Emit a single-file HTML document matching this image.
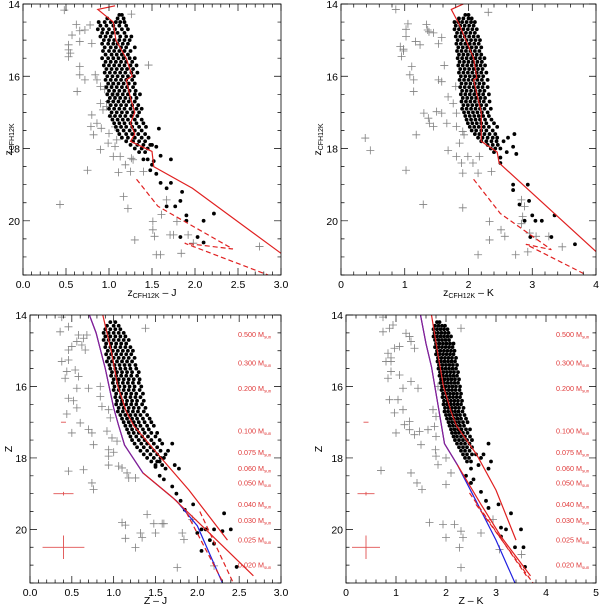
<!DOCTYPE html>
<html><head><meta charset="utf-8">
<style>
html,body{margin:0;padding:0;background:#fff;}
svg{display:block;font-family:"Liberation Sans",sans-serif;}
</style></head>
<body>
<svg id="fig" width="600" height="607" viewBox="0 0 600 607" xmlns="http://www.w3.org/2000/svg"></svg>
<script>
// ---------- DATA ----------
// Cluster members (dots) rows: [mag, color, color, ...]
const tlDots = [
[14.3,1.12,1.15],[14.4,1.1,1.17,0.98],[14.5,0.88,0.95,1.02,1.08,1.13,1.18],[14.6,0.9,0.97,1.05,1.12,1.2],
[14.7,0.87,0.93,1.0,1.07,1.15,1.22],[14.8,0.92,0.98,1.04,1.1,1.18],[14.9,0.9,0.96,1.02,1.13,1.2,1.26],
[15.0,0.94,1.0,1.06,1.12,1.18,1.24],[15.1,0.92,0.99,1.05,1.1,1.16,1.22],[15.2,0.95,1.02,1.08,1.14,1.2,1.3],
[15.3,0.93,1.0,1.06,1.12,1.18,1.25],[15.4,0.96,1.03,1.09,1.15,1.22],[15.5,0.92,0.99,1.05,1.11,1.17,1.24,1.3],
[15.6,0.96,1.02,1.08,1.14,1.2,1.27],[15.7,0.94,1.0,1.06,1.12,1.18,1.25,1.32],[15.8,0.97,1.03,1.09,1.15,1.21,1.28],
[15.9,0.95,1.01,1.07,1.13,1.19,1.26,1.33],[16.0,0.98,1.04,1.1,1.16,1.22,1.29],[16.1,0.96,1.02,1.08,1.14,1.2,1.27],
[16.2,0.99,1.05,1.11,1.17,1.23,1.3],[16.3,0.97,1.03,1.09,1.15,1.21,1.28],[16.4,1.0,1.06,1.12,1.18,1.24,1.31],
[16.5,0.98,1.04,1.1,1.16,1.22,1.3,1.36],[16.6,1.01,1.07,1.13,1.19,1.25,1.32],[16.7,0.99,1.05,1.11,1.17,1.23,1.3],
[16.8,1.02,1.08,1.14,1.2,1.27,1.34],[16.9,1.0,1.06,1.12,1.18,1.25,1.32,1.38],[17.0,1.03,1.09,1.15,1.21,1.28,1.35],
[17.1,1.01,1.07,1.13,1.19,1.26,1.33],[17.2,1.04,1.1,1.16,1.22,1.3,1.38],[17.3,1.06,1.12,1.18,1.25,1.32,1.4],
[17.4,1.08,1.14,1.2,1.27,1.35,1.43],[17.5,1.1,1.17,1.24,1.3,1.38],[17.6,1.12,1.2,1.27,1.34,1.42],
[17.7,1.15,1.22,1.3,1.38,1.46],[17.8,1.2,1.28,1.35,1.42],[17.9,1.25,1.33,1.4,1.5],[18.0,1.3,1.38,1.45],[18.1,1.35,1.42],
[17.45,1.58],[17.9,1.48],[17.95,1.55],[18.2,1.6],[18.3,1.72,1.45,1.4],[18.45,1.5],[18.35,1.52],[18.6,1.48],[18.7,1.55],
[18.95,1.6,1.72],[19.1,1.67],[19.2,1.85],[19.45,1.83],[19.6,1.67,1.77],[19.85,1.9],[19.8,2.22],[20.0,1.9,2.1],
[20.45,1.83,2.03],[20.6,2.1]
];
const trDots = [
[14.3,2.0,1.95],[14.4,1.85,1.92,2.0,2.05],[14.5,1.78,1.84,1.9,1.97,2.04,2.1],[14.6,1.8,1.87,1.94,2.01,2.08],
[14.7,1.78,1.85,1.92,1.99,2.06,2.13],[14.8,1.82,1.89,1.96,2.03,2.1],[14.9,1.8,1.87,1.94,2.01,2.08,2.15],
[15.0,1.83,1.9,1.97,2.04,2.11,2.18],[15.1,1.81,1.88,1.95,2.02,2.09,2.16],[15.2,1.84,1.91,1.98,2.05,2.12,2.2],
[15.3,1.82,1.89,1.96,2.03,2.1,2.17],[15.4,1.85,1.92,1.99,2.06,2.13,2.2],[15.5,1.83,1.9,1.97,2.04,2.11,2.18,2.25],
[15.6,1.86,1.93,2.0,2.07,2.14,2.21],[15.7,1.84,1.91,1.98,2.05,2.12,2.19,2.26],[15.8,1.87,1.94,2.01,2.08,2.15,2.22],
[15.9,1.85,1.92,1.99,2.06,2.13,2.2,2.28],[16.0,1.88,1.95,2.02,2.09,2.16,2.23],[16.1,1.86,1.93,2.0,2.07,2.14,2.21,2.3],
[16.2,1.89,1.96,2.03,2.1,2.17,2.24],[16.3,1.87,1.94,2.01,2.08,2.15,2.22,2.3],[16.4,1.9,1.97,2.04,2.11,2.18,2.25],
[16.5,1.88,1.95,2.02,2.09,2.16,2.23,2.32],[16.6,1.91,1.98,2.05,2.12,2.19,2.26],[16.7,1.89,1.96,2.03,2.1,2.17,2.24,2.33],
[16.8,1.92,1.99,2.06,2.13,2.2,2.28],[16.9,1.9,1.97,2.04,2.11,2.18,2.25,2.35],[17.0,1.93,2.0,2.07,2.14,2.21,2.3],
[17.1,1.95,2.02,2.09,2.16,2.23,2.32],[17.2,1.97,2.04,2.11,2.18,2.26,2.36],[17.3,1.99,2.06,2.13,2.2,2.28,2.4],
[17.4,2.02,2.09,2.16,2.24,2.32,2.45],[17.5,2.05,2.12,2.2,2.28,2.38],[17.6,2.1,2.17,2.25,2.33,2.42,2.72],
[17.7,2.15,2.22,2.3,2.38,2.45,2.62],[17.8,2.2,2.28,2.36,2.44,2.55],[17.9,2.3,2.38,2.46],[18.0,2.35,2.42,2.5],
[17.95,2.7],[18.15,2.75],[18.1,2.6,2.4],[18.25,2.5],[18.4,2.5],[19.0,2.93,2.7],[19.15,2.7],[19.55,2.8],[19.45,2.95],
[19.85,3.35,3.0],[20.0,3.05,3.15,2.88],[20.45,3.3,2.97],[20.65,3.67]
];
const blDots = [
[14.2,0.96,1.02],[14.3,0.92,1.0,1.06],[14.4,0.9,0.96,1.02,1.08],[14.5,0.88,0.94,1.0,1.06,1.12],
[14.6,0.9,0.96,1.02,1.08,1.14],[14.7,0.88,0.94,1.0,1.06,1.12,1.18],[14.8,0.91,0.97,1.03,1.09,1.15],
[14.9,0.9,0.96,1.02,1.08,1.14,1.2],[15.0,0.93,0.99,1.05,1.11,1.17,1.23],[15.1,0.91,0.97,1.03,1.09,1.15,1.21],
[15.2,0.94,1.0,1.06,1.12,1.18,1.25],[15.3,0.92,0.98,1.04,1.1,1.16,1.22],[15.4,0.95,1.01,1.07,1.13,1.19,1.26],
[15.5,0.96,1.02,1.08,1.14,1.2,1.27],[15.6,0.98,1.04,1.1,1.16,1.22,1.3],[15.7,0.97,1.03,1.09,1.15,1.21,1.28],
[15.8,1.0,1.06,1.12,1.18,1.24,1.31],[15.9,0.99,1.05,1.11,1.17,1.23,1.3],[16.0,1.01,1.07,1.13,1.19,1.25,1.33],
[16.1,1.0,1.06,1.12,1.18,1.24,1.31],[16.2,1.03,1.09,1.15,1.21,1.27,1.35],[16.3,1.02,1.08,1.14,1.2,1.26,1.32],
[16.4,1.04,1.1,1.16,1.22,1.28,1.36],[16.5,1.03,1.09,1.15,1.21,1.27,1.34],[16.6,1.06,1.12,1.18,1.24,1.3,1.38],
[16.7,1.05,1.11,1.17,1.23,1.29,1.36],[16.8,1.08,1.14,1.2,1.26,1.32,1.4],[16.9,1.1,1.16,1.22,1.28,1.35,1.43],
[17.0,1.12,1.18,1.24,1.3,1.37,1.45],[17.1,1.14,1.2,1.26,1.32,1.4,1.48],[17.2,1.16,1.22,1.28,1.35,1.42],
[17.3,1.18,1.24,1.3,1.37,1.45,1.52],[17.4,1.2,1.27,1.34,1.41,1.5],[17.5,1.22,1.3,1.37,1.45,1.55],
[17.6,1.25,1.33,1.4,1.48,1.58,1.7],[17.7,1.28,1.36,1.44,1.52],[17.8,1.32,1.4,1.48,1.56,1.65],
[17.9,1.36,1.44,1.52,1.62],[18.0,1.4,1.48,1.56,1.6],[18.1,1.45,1.52,1.55],[18.2,1.5,1.58,1.73],
[18.3,1.78,1.62],[18.25,1.5],[18.5,1.55],[18.6,1.6],[18.8,1.7],[19.0,1.75],[19.2,1.8],[19.3,1.95],[19.45,1.85],
[19.55,2.32],[20.0,2.05,2.1,2.2,2.4],[20.05,2.3],[20.1,2.0],[20.3,2.15],[20.6,2.05],[20.4,2.2],[21.05,2.47]
];
const brDots = [
[14.2,1.82,1.87],[14.3,1.78,1.85,1.92,1.98],[14.4,1.75,1.82,1.89,1.96,2.03],[14.5,1.77,1.84,1.91,1.98,2.05],
[14.6,1.75,1.82,1.89,1.96,2.03,2.1],[14.7,1.78,1.85,1.92,1.99,2.06],[14.8,1.8,1.87,1.94,2.01,2.08,2.15],
[14.9,1.78,1.85,1.92,1.99,2.06,2.13],[15.0,1.82,1.89,1.96,2.03,2.1,2.17],[15.1,1.8,1.87,1.94,2.01,2.08,2.15],
[15.2,1.84,1.91,1.98,2.05,2.12,2.2],[15.3,1.83,1.9,1.97,2.04,2.11,2.18],[15.4,1.86,1.93,2.0,2.07,2.14,2.22],
[15.5,1.85,1.92,1.99,2.06,2.13,2.2],[15.6,1.88,1.95,2.02,2.09,2.16,2.24],[15.7,1.87,1.94,2.01,2.08,2.15,2.22],
[15.8,1.9,1.97,2.04,2.11,2.18,2.26],[15.9,1.89,1.96,2.03,2.1,2.17,2.24],[16.0,1.92,1.99,2.06,2.13,2.2,2.28],
[16.1,1.91,1.98,2.05,2.12,2.19,2.27],[16.2,1.94,2.01,2.08,2.15,2.22,2.3],[16.3,1.93,2.0,2.07,2.14,2.21,2.28],
[16.4,1.96,2.03,2.1,2.17,2.24,2.32],[16.5,1.95,2.02,2.09,2.16,2.23,2.3],[16.6,1.98,2.05,2.12,2.19,2.26,2.35],
[16.7,1.97,2.04,2.11,2.18,2.25,2.33],[16.8,2.0,2.07,2.14,2.21,2.28,2.37],[16.9,2.02,2.09,2.16,2.23,2.3,2.4],
[17.0,2.05,2.12,2.19,2.26,2.34,2.43],[17.1,2.07,2.14,2.21,2.28,2.36],[17.2,2.1,2.17,2.24,2.31,2.4,2.48],
[17.3,2.12,2.19,2.26,2.34,2.43],[17.4,2.15,2.22,2.3,2.38,2.48],[17.5,2.18,2.26,2.34,2.42,2.52],
[17.6,2.22,2.3,2.38,2.47,2.85],[17.7,2.26,2.34,2.42,2.52],[17.8,2.3,2.38,2.47],[17.9,2.34,2.42,2.52,2.6,2.75],
[18.0,2.38,2.46,2.7],[18.1,2.42,2.5,2.9],[18.2,2.65],[18.3,2.85,2.5],[18.5,2.4],[18.6,2.55],[18.7,2.5],[18.95,2.7],
[19.2,2.8],[19.4,2.85],[19.3,3.05],[19.55,3.3],[19.95,3.1],[20.0,3.2,3.5],[20.2,3.1],[20.5,3.55,3.38],[21.05,3.58]
];
// Non-members (crosses): flat [color, mag, color, mag, ...]
const tlCross = [0.48,14.17,0.78,14.58,0.62,14.57,0.72,14.72,0.66,14.74,0.57,14.86,0.66,15.04,0.53,15.13,0.8,15.09,0.53,15.27,0.55,15.36,0.53,15.46,0.66,15.73,0.66,15.96,0.72,16.1,0.84,15.96,0.86,16.1,0.63,16.42,0.9,16.28,0.95,16.36,0.9,16.75,0.97,16.84,0.93,16.93,1.0,16.7,0.8,17.07,0.79,17.39,0.86,17.3,0.82,17.62,0.91,17.44,1.0,17.58,1.07,17.4,1.09,17.76,0.99,17.85,0.9,18.03,1.07,17.94,1.05,18.22,1.13,18.22,1.26,18.27,1.19,18.45,1.28,18.31,0.75,18.6,1.11,18.66,1.25,18.64,1.4,18.64,0.43,19.55,1.17,19.33,1.22,19.66,1.3,20.53,1.51,20.02,1.51,20.25,1.53,20.43,1.55,20.94,1.6,20.94,1.61,19.83,1.67,19.42,1.71,20.39,1.75,20.39,1.79,20.02,1.84,20.9,1.92,20.39,1.98,20.62,2.75,20.71,1.46,15.69,1.26,14.28,1.03,16.24,1.07,16.56,1.03,17.12];
const trCross = [0.86,14.15,1.05,14.55,1.02,14.7,1.34,14.57,1.38,14.77,1.45,14.8,1.36,14.72,1.17,15.04,1.02,14.9,1.53,15.1,1.58,14.93,1.24,15.13,0.93,15.18,0.98,15.3,0.95,15.45,0.98,15.25,1.62,15.7,1.11,15.73,1.08,15.96,1.14,16.1,1.53,16.1,1.58,16.15,1.14,16.42,1.68,16.57,1.76,16.75,1.5,16.98,1.58,17.02,1.3,17.02,1.37,17.16,1.39,17.3,1.45,17.39,1.66,17.3,1.18,17.62,1.81,17.39,1.91,17.53,1.93,17.62,0.38,17.71,0.46,18.05,1.68,18.05,1.86,17.85,1.81,18.22,1.89,18.4,1.99,18.22,2.17,18.22,2.07,18.4,2.15,18.68,2.36,18.64,1.91,18.68,1.02,18.6,1.29,19.55,1.91,19.64,2.33,20.02,2.51,20.25,2.57,20.43,2.33,20.53,2.15,20.94,2.74,20.94,2.83,19.42,2.88,19.6,2.85,19.88,2.83,20.08,2.96,20.34,3.06,20.43,2.93,20.86,3.47,20.72,3.26,20.43,1.8,16.28,2.31,14.23,1.81,17.02];
const blCross = [0.38,14.06,0.36,14.47,0.46,14.33,0.58,14.56,0.64,14.65,0.68,14.56,0.56,14.74,0.5,14.88,0.46,14.98,0.62,14.84,0.66,14.98,0.38,15.3,0.46,15.26,0.44,15.58,0.42,15.77,0.54,15.54,0.58,15.72,0.56,16.05,0.7,16.05,0.84,16.0,0.46,16.33,0.52,16.4,0.44,16.77,0.56,16.6,0.84,16.28,0.86,16.56,0.94,16.65,0.96,16.88,0.6,17.02,0.5,17.3,0.7,17.2,0.74,17.3,0.76,17.63,0.92,17.25,0.98,17.44,1.04,17.53,0.94,17.77,0.94,17.95,1.0,17.84,0.94,18.2,1.06,18.23,1.1,18.28,1.16,18.42,1.18,18.56,1.26,18.56,0.46,18.37,0.64,18.33,0.74,18.7,0.76,18.88,1.1,19.81,1.14,19.88,1.32,20.1,1.34,20.23,1.14,20.25,1.26,20.51,1.4,19.58,1.48,19.84,1.58,19.84,1.6,19.84,1.5,20.1,1.76,21.07,1.94,19.72,1.82,20.1,1.84,20.28,2.2,21.02,1.38,14.37];
const brCross = [0.74,14.06,0.74,14.47,0.87,14.37,0.94,14.28,1.2,14.51,1.27,14.6,1.3,14.74,1.37,14.93,1.07,14.88,0.97,14.93,0.84,15.07,0.9,15.2,0.8,15.3,0.9,15.3,0.9,15.58,0.84,15.77,1.07,15.68,1.3,15.86,1.14,16.05,1.44,16.05,0.87,16.37,1.04,16.37,0.97,16.74,1.14,16.65,1.27,16.98,1.17,17.07,1.27,17.21,1.37,17.35,1.47,17.26,1.0,17.3,1.5,17.63,1.64,17.21,1.74,16.65,1.8,16.84,1.77,17.12,1.8,17.4,1.79,17.77,1.8,17.95,1.84,18.19,2.0,18.0,1.84,16.0,2.3,14.37,0.7,18.35,1.3,18.42,1.42,18.7,1.52,18.88,2.0,18.74,2.1,18.42,1.67,19.81,1.94,19.86,2.17,19.86,2.0,20.23,2.3,20.05,2.34,20.23,2.27,20.51,2.3,21.07,2.7,20.1,2.94,19.72,3.07,20.56,3.51,20.7];
// Isochrones / model tracks [color, mag]
const tlSolid = [[1.07,14.05],[0.87,14.15],[1.05,14.5],[1.08,15.0],[1.2,15.5],[1.27,16.0],[1.2,16.1],[1.25,16.6],[1.3,17.0],[1.25,17.3],[1.3,17.6],[1.25,17.8],[1.5,18.08],[1.52,18.5],[1.97,19.1],[3.0,20.9]];
const tlDash1 = [[1.32,18.85],[1.57,19.6],[2.44,20.78],[1.88,20.62],[2.85,21.5]];
const trSolid = [[1.92,14.0],[1.73,14.15],[1.85,14.55],[2.08,15.5],[2.13,16.05],[2.08,16.1],[2.2,17.0],[2.2,17.8],[2.45,18.1],[2.48,18.4],[4.0,20.85]];
const trDash1 = [[2.08,18.85],[2.5,19.8],[3.3,20.8],[2.9,20.65],[3.85,21.5]];
const blBlue = [[0.71,14],[0.79,14.5],[0.9,15.5],[1.0,16.6],[1.06,17.1],[1.13,17.64],[1.35,18.42],[1.75,19.2],[2.0,19.9],[2.3,21.5]];
const blPurple = [[0.71,14],[0.79,14.5],[0.9,15.5],[1.0,16.6],[1.06,17.1],[1.13,17.64],[1.35,18.42]];
const blRed1 = [[0.87,14],[0.97,15],[1.05,16],[1.15,16.7],[1.24,17.1],[1.53,17.9],[1.9,18.9],[2.36,20.3]];
const blRed2 = [[1.35,18.42],[1.7,19.1],[2.1,20.0],[2.67,21.3]];
const blDashA = [[1.87,19.53],[2.31,21.5]];
const blDashB = [[2.03,19.5],[2.43,21.5]];
const brBlue = [[1.49,14],[1.6,14.8],[1.71,15.45],[1.85,16.6],[1.97,17.6],[2.23,18.2],[2.6,19.2],[3.0,20.3],[3.38,21.5]];
const brPurple = [[1.49,14],[1.6,14.8],[1.71,15.45],[1.85,16.6],[1.97,17.6],[2.23,18.2]];
const brRed1 = [[1.71,14],[1.85,15.2],[1.95,16],[2.1,16.7],[2.21,17.1],[2.61,17.9],[3.0,18.9],[3.4,20.3]];
const brRed2 = [[2.23,18.2],[2.7,19.3],[3.1,20.2],[3.69,21.3]];
const brDashA = [[2.47,18.98],[3.61,21.3]];
const brDashB = [[2.6,19.3],[3.74,21.5]];
// Mass labels (mag position) and values
const massLabels = ["0.500","0.300","0.200","0.100","0.075","0.060","0.050","0.040","0.030","0.025","0.020"];
const massMags = [14.55,15.35,16.05,17.25,17.85,18.3,18.7,19.3,19.75,20.3,21.0];
// Error bars: [color, mag, halfWidthColor, halfHeightMag]
const blErr = [[0.4,17.0,0.03,0.0],[0.4,19.0,0.12,0.05],[0.4,20.5,0.25,0.33]];
const brErr = [[0.4,17.0,0.05,0.0],[0.4,19.0,0.17,0.05],[0.4,20.5,0.28,0.33]];
// Ticks
const tickJ = [0.0,0.5,1.0,1.5,2.0,2.5,3.0];
const tickK4 = [0,1,2,3,4];
const tickK5 = [0,1,2,3,4,5];
const tickMag = [14,16,18,20];

// ---------- DRAW ----------
const NS="http://www.w3.org/2000/svg";
const svg=document.getElementById('fig');
function mk(tag,attrs,parent){const e=document.createElementNS(NS,tag);for(const k in attrs)e.setAttribute(k,attrs[k]);(parent||svg).appendChild(e);return e;}

function panel(cfg){
  const g=mk('g',{});
  
  
  const X=v=>cfg.x0+(v-cfg.xmin)/(cfg.xmax-cfg.xmin)*(cfg.x1-cfg.x0);
  const Y=v=>cfg.y0+(v-14)/(21.5-14)*(cfg.y1-cfg.y0);
  const cp='cp'+cfg.name;
  const defs=mk('defs',{},g);const c=mk('clipPath',{id:cp},defs);
  mk('rect',{x:cfg.x0,y:cfg.y0,width:cfg.x1-cfg.x0,height:cfg.y1-cfg.y0},c);
  const data=mk('g',{'clip-path':'url(#'+cp+')'},g);
  const cg=mk('g',{stroke:'#808080','stroke-width':0.8},data);
  
  
  for(let i=0;i<cfg.cross.length;i+=2){
    const x=X(cfg.cross[i]),y=Y(cfg.cross[i+1]);
    mk('path',{d:`M${x-4},${y}H${x+4}M${x},${y-4}V${y+4}`},cg);
  }
  const dg=mk('g',{fill:'#000'},data);
  
  
  cfg.dots.forEach(r=>{for(let j=1;j<r.length;j++){mk('circle',{cx:X(r[j]),cy:Y(r[0]),r:1.9},dg);}});
  cfg.lines.forEach(L=>{
    const p=mk('polyline',{points:L.pts.map(q=>X(q[0])+','+Y(q[1])).join(' '),fill:'none',stroke:L.col,'stroke-width':1.2,'stroke-dasharray':L.dash||'none'},data);
    
    
  });
  (cfg.err||[]).forEach(e=>{
    const eb=mk('path',{d:`M${X(e[0]-e[2])},${Y(e[1])}H${X(e[0]+e[2])}`+(e[3]>0?`M${X(e[0])},${Y(e[1]-e[3])}V${Y(e[1]+e[3])}`:''),stroke:'#e05050','stroke-width':0.9,fill:'none'},g);
    
    
  });
  if(cfg.mass){massLabels.forEach((m,i)=>{
    const t=mk('text',{x:cfg.massX,y:Y(massMags[i])+2.5,'font-size':7.2,fill:'#e03a3a'},g);
    
    
    t.textContent=m+' M';
    const s=mk('tspan',{'font-size':4.5,dy:1.5},t);s.textContent='sun';
  });}
  const fr=mk('rect',{x:cfg.x0,y:cfg.y0,width:cfg.x1-cfg.x0,height:cfg.y1-cfg.y0,fill:'none',stroke:'#000','stroke-width':0.8},g);
  
  
  const tg=mk('g',{stroke:'#000','stroke-width':0.7},g);
  const nmin=Math.round((cfg.xmax-cfg.xmin)/cfg.minor);
  for(let i=0;i<=nmin;i++){const v=cfg.xmin+i*cfg.minor;const x=X(v);
    const major=Math.abs(v/cfg.major-Math.round(v/cfg.major))<1e-6;const L=major?7:3.5;
    mk('path',{d:`M${x},${cfg.y1}v${-L}M${x},${cfg.y0}v${L}`},tg);}
  for(let v=14;v<=21.5+1e-6;v+=0.5){const y=Y(v);const major=Math.abs(v%2)<1e-6;const L=major?7:3.5;
    mk('path',{d:`M${cfg.x0},${y}h${L}M${cfg.x1},${y}h${-L}`},tg);}
  cfg.ticks.forEach(v=>{const t=mk('text',{x:X(v),y:cfg.y1+13,'font-size':10.5,'text-anchor':'middle'},g);
    
    t.textContent=cfg.fmt(v);});
  tickMag.forEach(v=>{const t=mk('text',{x:cfg.x0-3,y:Y(v)+4,'font-size':10.5,'text-anchor':'end'},g);
    
    t.textContent=v;});
  const xt=mk('text',{x:(cfg.x0+cfg.x1)/2,y:cfg.y1+21,'font-size':10.5,'text-anchor':'middle'},g);
  
  if(cfg.sub){xt.appendChild(document.createTextNode('z'));const s=mk('tspan',{'font-size':7,dy:2},xt);s.textContent='CFH12K';const s2=mk('tspan',{dy:-2},xt);s2.textContent=' \u2013 '+cfg.band;}
  else xt.textContent='Z \u2013 '+cfg.band;
  const yx=cfg.ytx, yy=(cfg.y0+cfg.y1)/2;
  const yt=mk('text',{x:yx,y:yy,'font-size':10.5,'text-anchor':'middle',transform:`rotate(-90 ${yx} ${yy})`},g);
  
  if(cfg.sub){yt.appendChild(document.createTextNode('z'));const s=mk('tspan',{'font-size':7,dy:2},yt);s.textContent='CFH12K';}
  else yt.textContent='Z';
}
const f1=v=>v.toFixed(1), f0=v=>String(v);
panel({name:'panel-zcfh-j',x0:23,x1:281,y0:4,y1:275,ytx:12,xmin:0,xmax:3,major:0.5,minor:0.1,ticks:tickJ,fmt:f1,sub:true,band:'J',
  cross:tlCross,dots:tlDots,lines:[{pts:tlSolid,col:'#e02020',name:'isochrone-solid'},{pts:tlDash1,col:'#e02020',dash:'5,3',name:'isochrone-dashed'}]});
panel({name:'panel-zcfh-k',x0:341,x1:596,y0:4,y1:275,ytx:321,xmin:0,xmax:4,major:1,minor:0.2,ticks:tickK4,fmt:f0,sub:true,band:'K',
  cross:trCross,dots:trDots,lines:[{pts:trSolid,col:'#e02020',name:'isochrone-solid'},{pts:trDash1,col:'#e02020',dash:'5,3',name:'isochrone-dashed'}]});
panel({name:'panel-z-j',x0:30,x1:281,y0:315,y1:583,ytx:12,xmin:0,xmax:3,major:0.5,minor:0.1,ticks:tickJ,fmt:f1,sub:false,band:'J',
  cross:blCross,dots:blDots,err:blErr,mass:true,massX:238,
  lines:[{pts:blBlue,col:'#2020e0',name:'blue-isochrone'},{pts:blPurple,col:'#8a2090',name:'overlap-isochrone'},{pts:blRed1,col:'#e02020',name:'red-isochrone-upper'},{pts:blRed2,col:'#e02020',name:'red-isochrone-lower'},{pts:blDashA,col:'#e02020',dash:'5,3',name:'dashed-isochrone-a'},{pts:blDashB,col:'#e02020',dash:'5,3',name:'dashed-isochrone-b'}]});
panel({name:'panel-z-k',x0:346,x1:596,y0:315,y1:583,ytx:322,xmin:0,xmax:5,major:1,minor:0.2,ticks:tickK5,fmt:f0,sub:false,band:'K',
  cross:brCross,dots:brDots,err:brErr,mass:true,massX:556,
  lines:[{pts:brBlue,col:'#2020e0',name:'blue-isochrone'},{pts:brPurple,col:'#8a2090',name:'overlap-isochrone'},{pts:brRed1,col:'#e02020',name:'red-isochrone-upper'},{pts:brRed2,col:'#e02020',name:'red-isochrone-lower'},{pts:brDashA,col:'#e02020',dash:'5,3',name:'dashed-isochrone-a'},{pts:brDashB,col:'#e02020',dash:'5,3',name:'dashed-isochrone-b'}]});
</script>
</body></html>
